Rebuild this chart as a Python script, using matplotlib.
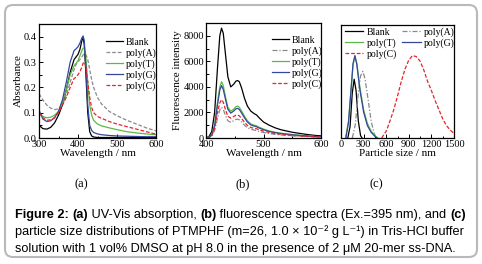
import matplotlib
matplotlib.use("Agg")
import matplotlib.pyplot as plt
from matplotlib.patches import FancyBboxPatch
from matplotlib.transforms import IdentityTransform
from matplotlib.ticker import MultipleLocator

# ---- (a) UV-Vis absorption ----
wl_abs = [300, 310, 320, 330, 340, 350, 360, 370, 380, 390, 395, 400, 405, 410,
          413, 416, 420, 425, 430, 435, 440, 450, 460, 480, 500, 525, 550, 575, 600]
abs_blank = [0.050, 0.037, 0.035, 0.042, 0.060, 0.090, 0.130, 0.190, 0.260, 0.310, 0.320,
             0.330, 0.350, 0.385, 0.395, 0.370, 0.260, 0.100, 0.025, 0.008, 0.004, 0.002,
             0.002, 0.002, 0.002, 0.002, 0.002, 0.002, 0.002]
abs_A = [0.175, 0.150, 0.130, 0.118, 0.112, 0.115, 0.130, 0.170, 0.220, 0.270, 0.290,
         0.300, 0.310, 0.320, 0.328, 0.332, 0.330, 0.310, 0.270, 0.230, 0.200, 0.160,
         0.135, 0.105, 0.088, 0.070, 0.055, 0.040, 0.028]
abs_T = [0.100, 0.085, 0.080, 0.082, 0.090, 0.105, 0.140, 0.190, 0.250, 0.285, 0.295,
         0.305, 0.325, 0.345, 0.355, 0.355, 0.320, 0.220, 0.130, 0.090, 0.070, 0.055,
         0.048, 0.040, 0.033, 0.025, 0.020, 0.016, 0.013]
abs_G = [0.110, 0.075, 0.065, 0.068, 0.080, 0.105, 0.150, 0.220, 0.300, 0.345, 0.352,
         0.360, 0.375, 0.395, 0.403, 0.385, 0.290, 0.130, 0.050, 0.030, 0.022, 0.016,
         0.013, 0.010, 0.008, 0.007, 0.006, 0.005, 0.005]
abs_C = [0.100, 0.080, 0.070, 0.072, 0.080, 0.100, 0.130, 0.160, 0.200, 0.235, 0.240,
         0.250, 0.262, 0.280, 0.295, 0.300, 0.285, 0.220, 0.160, 0.120, 0.100, 0.085,
         0.078, 0.065, 0.055, 0.045, 0.035, 0.025, 0.015]

# ---- (b) fluorescence ----
wl_fl = [400, 405, 410, 415, 420, 424, 427, 430, 434, 438, 443, 448, 452, 455, 458, 462,
         467, 472, 478, 484, 488, 492, 500, 510, 520, 530, 540, 550, 560, 575, 590, 600]
fl_blank = [30, 100, 500, 2000, 5500, 8000, 8600, 8200, 6500, 4800, 4000, 4200, 4450, 4500,
            4400, 3900, 3100, 2500, 2100, 1900, 1800, 1600, 1250, 1000, 800, 650, 550, 450,
            380, 280, 200, 170]
fl_A = [10, 30, 150, 600, 1550, 2200, 2400, 2250, 1750, 1350, 1230, 1350, 1450, 1480,
        1420, 1250, 1000, 800, 680, 620, 580, 520, 430, 350, 290, 240, 200, 170, 140, 110,
        80, 70]
fl_T = [20, 50, 250, 1000, 2800, 4000, 4400, 4100, 3200, 2400, 2100, 2250, 2450, 2500,
        2400, 2100, 1700, 1350, 1100, 1000, 950, 850, 700, 550, 450, 380, 320, 270, 230,
        170, 120, 100]
fl_G = [20, 45, 230, 930, 2600, 3750, 4100, 3800, 3000, 2250, 1950, 2100, 2280, 2320,
        2230, 1950, 1580, 1250, 1020, 930, 880, 790, 650, 510, 420, 350, 300, 250, 210,
        160, 110, 95]
fl_C = [15, 40, 190, 750, 2000, 2750, 3000, 2800, 2200, 1700, 1550, 1680, 1780, 1800,
        1730, 1520, 1230, 980, 820, 760, 720, 650, 540, 430, 350, 290, 240, 200, 170, 130,
        95, 80]

# ---- (c) particle size ----
size_blank = [90, 120, 150, 175, 200, 230, 260, 280]
dist_blank = [0.0, 0.10, 0.40, 0.52, 0.42, 0.15, 0.02, 0.0]
size_A = [150, 190, 230, 260, 290, 320, 360, 400, 440, 470]
dist_A = [0.0, 0.12, 0.40, 0.55, 0.59, 0.52, 0.34, 0.15, 0.04, 0.0]
size_T = [60, 100, 130, 160, 185, 210, 250, 300, 350, 400, 450, 490]
dist_T = [0.0, 0.15, 0.40, 0.65, 0.72, 0.66, 0.45, 0.25, 0.13, 0.06, 0.02, 0.0]
size_G = [65, 100, 130, 160, 185, 210, 250, 300, 350, 400, 450, 480]
dist_G = [0.0, 0.14, 0.40, 0.66, 0.73, 0.65, 0.43, 0.23, 0.11, 0.05, 0.015, 0.0]
size_C = [540, 600, 650, 700, 750, 800, 850, 900, 950, 1000, 1050, 1100, 1150, 1200,
          1250, 1300, 1350, 1400, 1450, 1500]
dist_C = [0.0, 0.06, 0.15, 0.25, 0.37, 0.50, 0.61, 0.69, 0.73, 0.72, 0.68, 0.60, 0.50,
          0.42, 0.33, 0.25, 0.17, 0.11, 0.07, 0.04]

labels = ["Blank", "poly(A)", "poly(T)", "poly(G)", "poly(C)"]
colors = ["black", "#8a8a8a", "#5cb946", "#34489c", "#e8232a"]

W, H = 482, 264
plt.rcParams['font.family'] = ['Liberation Serif', 'DejaVu Serif']
fig = plt.figure(figsize=(W / 100, H / 100), dpi=100)


def ax_px(x0, y0, x1, y1):
    return fig.add_axes([x0 / W, 1 - y1 / H, (x1 - x0) / W, (y1 - y0) / H])


def style(ax):
    for s in ax.spines.values():
        s.set_linewidth(0.9)
    ax.tick_params(which='both', direction='in', labelsize=7.5, pad=1.5, width=0.7)
    ax.tick_params(which='major', length=3)
    ax.tick_params(which='minor', length=1.8)


lw = 0.9
leg_kw = dict(frameon=False, fontsize=7, handlelength=1.75, handletextpad=0.3,
              labelspacing=0.15, borderpad=0, borderaxespad=0)

# (a)
ax = ax_px(39, 24, 156, 138)
ax.plot(wl_abs, abs_blank, color=colors[0], lw=lw, label=labels[0])
ax.plot(wl_abs, abs_A, color=colors[1], lw=lw, ls=(0, (3, 1.5)), label=labels[1])
ax.plot(wl_abs, abs_T, color=colors[2], lw=lw, label=labels[2])
ax.plot(wl_abs, abs_G, color=colors[3], lw=lw, label=labels[3])
ax.plot(wl_abs, abs_C, color=colors[4], lw=lw, ls=(0, (3, 1.5)), label=labels[4])
ax.set_xlim(300, 600)
ax.set_ylim(0, 0.45)
ax.set_xticks([300, 400, 500, 600])
ax.set_yticks([0.0, 0.1, 0.2, 0.3, 0.4])
ax.set_yticklabels(["0.0", "0.1", "0.2", "0.3", "0.4"])
ax.xaxis.set_minor_locator(MultipleLocator(50))
ax.yaxis.set_minor_locator(MultipleLocator(0.05))
style(ax)
ax.set_xlabel("Wavelength / nm", fontsize=8, labelpad=0)
ax.set_ylabel("Absorbance", fontsize=8, labelpad=1)
ax.legend(loc='upper left', bbox_to_anchor=(0.57, 0.88), **leg_kw)

# (b)
ax = ax_px(206, 23, 321, 138)
ax.plot(wl_fl, fl_blank, color=colors[0], lw=lw, label=labels[0])
ax.plot(wl_fl, fl_A, color=colors[1], lw=lw, ls=(0, (4, 1.5, 1, 1.5)), label=labels[1])
ax.plot(wl_fl, fl_T, color=colors[2], lw=lw, label=labels[2])
ax.plot(wl_fl, fl_G, color=colors[3], lw=lw, label=labels[3])
ax.plot(wl_fl, fl_C, color=colors[4], lw=lw, ls=(0, (3, 1.5)), label=labels[4])
ax.set_xlim(400, 600)
ax.set_ylim(0, 9000)
ax.set_xticks([400, 500, 600])
ax.set_yticks([0, 2000, 4000, 6000, 8000])
ax.xaxis.set_minor_locator(MultipleLocator(50))
ax.yaxis.set_minor_locator(MultipleLocator(1000))
style(ax)
ax.set_xlabel("Wavelength / nm", fontsize=8, labelpad=0)
ax.set_ylabel("Fluorescence intensity", fontsize=8, labelpad=1)
ax.legend(loc='upper left', bbox_to_anchor=(0.57, 0.89), **leg_kw)

# (c)
ax = ax_px(341, 25, 454, 138)
l0, = ax.plot(size_blank, dist_blank, color=colors[0], lw=lw, label=labels[0])
l1, = ax.plot(size_A, dist_A, color=colors[1], lw=lw, ls=(0, (4, 1.5, 1, 1.5)), label=labels[1])
l2, = ax.plot(size_T, dist_T, color=colors[2], lw=lw, label=labels[2])
l3, = ax.plot(size_G, dist_G, color=colors[3], lw=lw, label=labels[3])
l4, = ax.plot(size_C, dist_C, color=colors[4], lw=lw, ls=(0, (3, 1.5)), label=labels[4])
ax.set_xlim(0, 1500)
ax.set_ylim(0, 1.0)
ax.set_xticks([0, 300, 600, 900, 1200, 1500])
ax.xaxis.set_minor_locator(MultipleLocator(150))
ax.set_yticks([])
style(ax)
ax.set_xlabel("Particle size / nm", fontsize=8, labelpad=0)
leg_c = dict(leg_kw, handlelength=1.9)
ax.legend([l0, l2, l4, l1, l3], [labels[0], labels[2], labels[4], labels[1], labels[3]],
          ncol=2, loc='upper left', bbox_to_anchor=(0.035, 0.98), columnspacing=0.6,
          **leg_c)

# panel letters
for x, s in [(81, "(a)"), (243, "(b)"), (376, "(c)")]:
    fig.text(x / W, 1 - 184 / H, s, ha='center', va='center', fontsize=9)

# rounded frame
frame = FancyBboxPatch((5, H - 257), 472, 252, boxstyle="round,pad=0,rounding_size=8",
                       transform=IdentityTransform(), fill=False, edgecolor="#b9b9b9",
                       lw=1.5)
fig.patches.append(frame)

# caption
cap_font = ['Liberation Sans', 'DejaVu Sans']
cap_size = 9.2
r = fig.canvas.get_renderer()


def seg_width(s, bold):
    w = 'bold' if bold else 'normal'
    t1 = fig.text(0, 0, s + "|", fontsize=cap_size, family=cap_font, weight=w)
    t2 = fig.text(0, 0, "|", fontsize=cap_size, family=cap_font, weight=w)
    width = t1.get_window_extent(r).width - t2.get_window_extent(r).width
    t1.remove()
    t2.remove()
    return width


def caption_line(x, y, parts):
    for s, bold in parts:
        fig.text(x / W, 1 - y / H, s, fontsize=cap_size, family=cap_font,
                 weight='bold' if bold else 'normal', va='baseline')
        x += seg_width(s, bold)


caption_line(15, 218, [("Figure 2: ", True), ("(a)", True), (" UV-Vis absorption, ", False),
                       ("(b)", True), (" fluorescence spectra (Ex.=395 nm), and ", False),
                       ("(c)", True)])
caption_line(15, 235, [("particle size distributions of PTMPHF (m=26, 1.0 \u00d7 10\u207b\u00b2 g L\u207b\u00b9) in Tris-HCl buffer", False)])
caption_line(15, 252, [("solution with 1 vol% DMSO at pH 8.0 in the presence of 2 \u03bcM 20-mer ss-DNA.", False)])

fig.savefig("out.png", dpi=100)
